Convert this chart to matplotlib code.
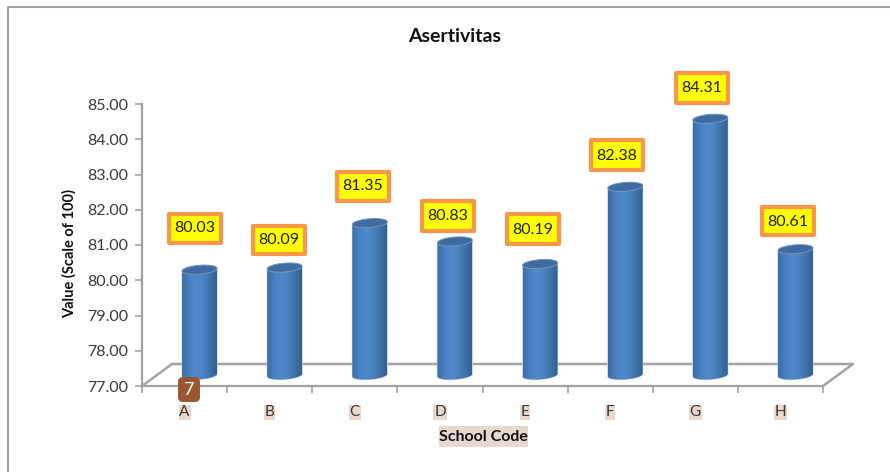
import matplotlib
matplotlib.use('Agg')
import matplotlib.pyplot as plt
import numpy as np
from matplotlib.colors import LinearSegmentedColormap
from matplotlib.patches import FancyBboxPatch, Polygon, Rectangle
from matplotlib.lines import Line2D

plt.rcParams['font.family'] = ['Lato', 'DejaVu Sans']

schools = ['A', 'B', 'C', 'D', 'E', 'F', 'G', 'H']
values = [80.03, 80.09, 81.35, 80.83, 80.19, 82.38, 84.31, 80.61]
y_ticks = [77, 78, 79, 80, 81, 82, 83, 84, 85]

W, H = 890, 472
# value labels sit where they were dragged by hand, in pixels
label_x = [195, 279, 363, 448, 533, 617, 702, 788]
label_y = [228, 240, 186, 216, 229, 155, 88, 221]

GREY = '#a3a3a3'
TAN = '#e7d9cf'

fig = plt.figure(figsize=(W / 100, H / 100), dpi=100)
ax = fig.add_axes([142 / W, 1 - 386 / H, (823 - 142) / W, (386 - 104) / H])
ax.set_xlim(0, 8)
ax.set_ylim(77, 85)

# sizes of the fake 3D depth, in axis units
px_x = 8 / (823 - 142)
px_y = 8 / (386 - 104)
floor_dx = 30 * px_x
floor_dy = 22 * px_y
bar_dx = 15 * px_x
base_dy = 11 * px_y
top_dy = 9.5 * px_y
bar_w = 35 * px_x
cap_b = 4.4 * px_y
tilt = 1.3 * px_y

# floor of the chart
ax.plot([0, floor_dx, 8 + floor_dx, 8], [77, 77 + floor_dy, 77 + floor_dy, 77],
        color=GREY, lw=1.8, clip_on=False, zorder=1, solid_joinstyle='round')

shade = LinearSegmentedColormap.from_list(
    'cyl', ['#3a6ea8', '#4a80c0', '#5089cc', '#4b82c0', '#3f72aa', '#33608f'])
grad = np.linspace(0, 1, 64).reshape(1, -1)
t = np.linspace(0, 2 * np.pi, 80)


def ring_y(centre, angle):
    # tilted ellipse: the right side of the cylinder rim sits a bit higher
    return centre + cap_b * np.sin(angle) + tilt * np.cos(angle)


for i, v in enumerate(values):
    cx = i + 0.5 + bar_dx
    left, right = cx - bar_w / 2, cx + bar_w / 2
    base = 77 + base_dy
    top = v + top_dy
    # cylinder body: front half of the bottom rim, then up to the top rim
    low = np.linspace(np.pi, 2 * np.pi, 40)
    high = np.linspace(0, np.pi, 40)
    xs = np.r_[cx + bar_w / 2 * np.cos(low), cx + bar_w / 2 * np.cos(high)]
    ys = np.r_[ring_y(base, low), ring_y(top, high)]
    body = Polygon(np.c_[xs, ys], closed=True, fc='none', ec='#c9d3de', lw=0.8, zorder=3)
    ax.add_patch(body)
    im = ax.imshow(grad, extent=[left, right, 76, top + 1], aspect='auto', cmap=shade, zorder=3)
    im.set_clip_path(body)
    cap = Polygon(np.c_[cx + bar_w / 2 * np.cos(t), ring_y(top, t)], closed=True,
                  fc='#3e6ca2', ec='#7f9dbd', lw=0.6, zorder=4)
    ax.add_patch(cap)

ax.set_xlim(0, 8)
ax.set_ylim(77, 85)

for side in ['top', 'right']:
    ax.spines[side].set_visible(False)
for side in ['left', 'bottom']:
    ax.spines[side].set_color(GREY)
    ax.spines[side].set_linewidth(1.6)

ax.set_yticks(y_ticks, ['%.2f' % y for y in y_ticks])
ax.tick_params(axis='y', length=5, width=1.2, color=GREY, labelsize=11.5,
               labelcolor='#3a3a3a', pad=5)

# ticks between categories, letters centred on each category
ax.set_xticks(np.arange(9))
ax.set_xticklabels([])
ax.set_xticks(np.arange(8) + 0.5, schools, minor=True)
ax.tick_params(axis='x', which='major', length=5, width=1.2, color=GREY)
ax.tick_params(axis='x', which='minor', length=0, labelsize=11,
               labelcolor='#40342c', pad=14)
for lab in ax.get_xticklabels(minor=True):
    lab.set_bbox(dict(fc=TAN, ec='none', pad=0.6))

for x, y, v in zip(label_x, label_y, values):
    fig.add_artist(Rectangle(((x - 26) / W, 1 - (y + 14.5) / H), 52 / W, 29 / H,
                             fc='#ffff00', ec='#f8964c', lw=3, joinstyle='round', zorder=6))
    fig.text(x / W, 1 - (y + 0.5) / H, '%.2f' % v, ha='center', va='center', fontsize=11.5,
             color='#222200', zorder=7)

fig.text(455 / W, 1 - 37 / H, 'Asertivitas', ha='center', va='center',
         fontsize=14, fontweight='bold', color='#111111')
fig.text(69 / W, 1 - 254 / H, 'Value (Scale of 100)', ha='center', va='center',
         rotation=90, fontsize=10.5, fontweight='bold', color='#111111')
fig.add_artist(Rectangle((439 / W, 1 - 447 / H), 89 / W, 21 / H, fc=TAN, ec='none', zorder=2))
fig.text(483.5 / W, 1 - 437 / H, 'School Code', ha='center', va='center', fontsize=11.5,
         fontweight='bold', color='#111111', zorder=3)

# small brown page badge over the first tick
fig.add_artist(FancyBboxPatch((182, H - 398), 14, 17, transform=None,
                              boxstyle='round,pad=4,rounding_size=5',
                              fc='#985732', ec='none', zorder=8))
fig.text(189 / W, 1 - 390 / H, '7', ha='center', va='center', fontsize=13, color='white', zorder=9)

# outer chart frame, only top and left edges are in view
fig.add_artist(Line2D([8 / W, 8 / W, 1], [0, 1 - 7 / H, 1 - 7 / H], color=GREY, lw=1.5))

fig.savefig('out.png', dpi=100)
